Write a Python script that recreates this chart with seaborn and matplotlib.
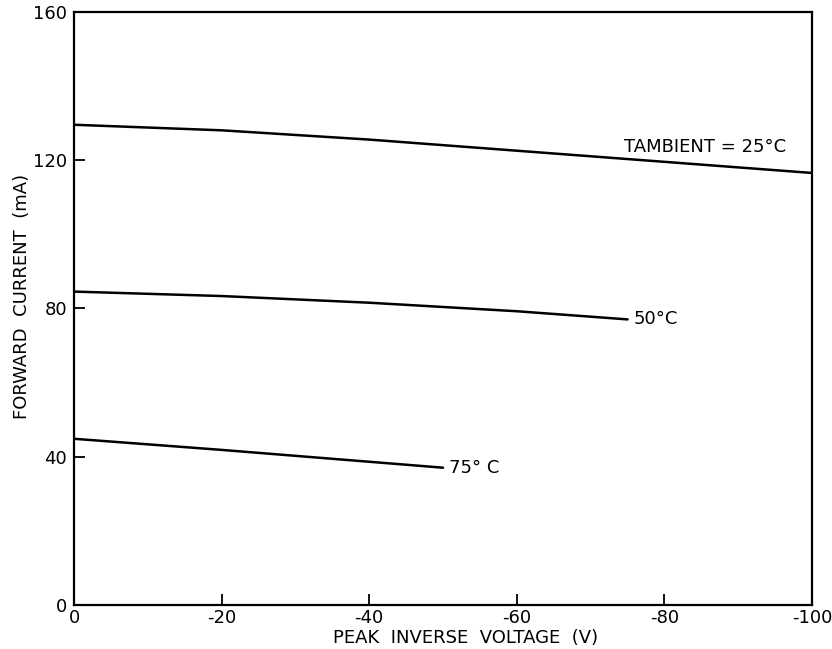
import pandas as pd
import matplotlib
matplotlib.use("Agg")
import matplotlib.pyplot as plt
import seaborn as sns

# data
v_25 = [0, -20, -40, -60, -80, -100]
i_25 = [129.5, 128.0, 125.5, 122.5, 119.5, 116.5]
v_50 = [0, -20, -40, -60, -75]
i_50 = [84.5, 83.3, 81.5, 79.2, 77.0]
v_75 = [0, -20, -40, -50]
i_75 = [44.8, 41.8, 38.6, 37.0]
x_ticks = [0, -20, -40, -60, -80, -100]
y_ticks = [0, 40, 80, 120, 160]

df = pd.concat([
    pd.DataFrame({"v": v_25, "i": i_25, "t": "25"}),
    pd.DataFrame({"v": v_50, "i": i_50, "t": "50"}),
    pd.DataFrame({"v": v_75, "i": i_75, "t": "75"}),
])

sns.set_style("ticks")
plt.rcParams["font.family"] = ["DejaVu Sans"]
plt.rcParams["axes.unicode_minus"] = False
plt.rcParams["text.color"] = "black"
plt.rcParams["axes.labelcolor"] = "black"

fig, ax = plt.subplots(figsize=(8.32, 6.49), dpi=100)
fig.subplots_adjust(left=0.089, right=0.976, top=0.982, bottom=0.068)

sns.lineplot(data=df, x="v", y="i", units="t", estimator=None,
             color="black", linewidth=1.8, ax=ax, legend=False)

ax.set_xlim(0, -100)
ax.set_ylim(0, 160)
ax.set_xticks(x_ticks)
ax.set_xticklabels([str(t) for t in x_ticks])
ax.set_yticks(y_ticks)
ax.set_yticklabels([str(t) for t in y_ticks])
ax.tick_params(direction="in", length=8, width=1.3, labelsize=13, pad=5,
               colors="black")
ax.tick_params(axis="x", pad=3)
for s in ax.spines.values():
    s.set_linewidth(1.6)
    s.set_color("black")

ax.set_xlabel("PEAK  INVERSE  VOLTAGE  (V)", fontsize=13)
ax.set_ylabel("FORWARD  CURRENT  (mA)", fontsize=13)
ax.xaxis.set_label_coords(0.53, -0.04)
ax.yaxis.set_label_coords(-0.059, 0.52)

ax.text(-74.5, 123.5, "TAMBIENT = 25°C", fontsize=13, va="center", ha="left")
ax.text(v_50[-1] - 0.8, i_50[-1], "50°C", fontsize=13, va="center", ha="left")
ax.text(v_75[-1] - 0.8, i_75[-1], "75° C", fontsize=13, va="center", ha="left")

fig.savefig("out.png", dpi=100)
